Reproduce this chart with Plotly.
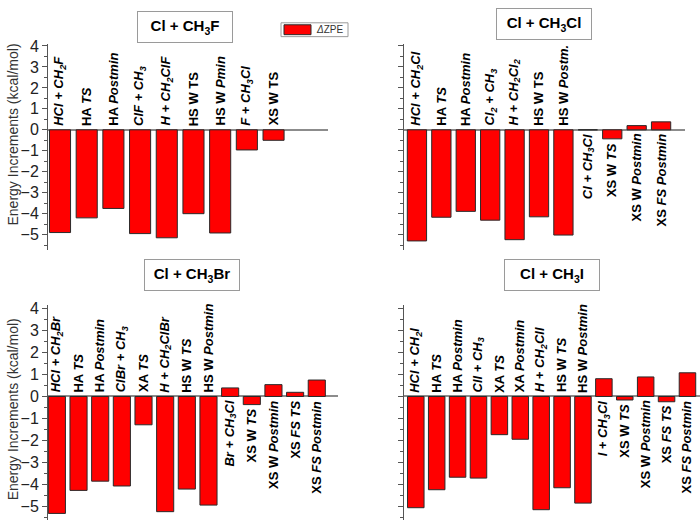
import plotly.graph_objects as go

# ---------------- data ----------------
tl_labels = ["<i>HCl + CH<sub>2</sub>F</i>", "HA <i>TS</i>", "HA <i>Postmin</i>",
             "<i>ClF + CH<sub>3</sub></i>", "<i>H + CH<sub>2</sub>ClF</i>", "HS W TS",
             "HS W <i>Pmin</i>", "<i>F + CH<sub>3</sub>Cl</i>", "XS W TS"]
tl_values = [-4.9, -4.2, -3.75, -4.95, -5.15, -4.0, -4.92, -0.96, -0.5]

tr_labels = ["<i>HCl + CH<sub>2</sub>Cl</i>", "HA <i>TS</i>", "HA <i>Postmin</i>",
             "<i>Cl<sub>2</sub> + CH<sub>3</sub></i>", "<i>H + CH<sub>2</sub>Cl<sub>2</sub></i>",
             "HS W TS", "HS W <i>Postm.</i>", "<i>Cl + CH<sub>3</sub>Cl</i>",
             "XS W <i>TS</i>", "XS W <i>Postmin</i>", "XS <i>FS Postmin</i>"]
tr_values = [-5.3, -4.17, -3.89, -4.31, -5.24, -4.15, -5.02, 0.0, -0.43, 0.2, 0.38]

bl_labels = ["<i>HCl + CH<sub>2</sub>Br</i>", "HA <i>TS</i>", "HA <i>Postmin</i>",
             "<i>ClBr + CH<sub>3</sub></i>", "XA <i>TS</i>", "<i>H + CH<sub>2</sub>ClBr</i>",
             "HS W <i>TS</i>", "HS W <i>Postmin</i>", "<i>Br + CH<sub>3</sub>Cl</i>",
             "XS W <i>TS</i>", "XS W <i>Postmin</i>", "XS <i>FS TS</i>", "XS <i>FS Postmin</i>"]
bl_values = [-5.33, -4.28, -3.86, -4.08, -1.29, -5.25, -4.22, -4.95, 0.39, -0.37, 0.54, 0.19, 0.75]

br_labels = ["<i>HCl + CH<sub>2</sub>I</i>", "HA <i>TS</i>", "HA <i>Postmin</i>",
             "<i>ClI + CH<sub>3</sub></i>", "XA <i>TS</i>", "XA <i>Postmin</i>",
             "<i>H + CH<sub>2</sub>ClI</i>", "HS W <i>TS</i>", "HS W <i>Postmin</i>",
             "<i>I + CH<sub>3</sub>Cl</i>", "XS W <i>TS</i>", "XS W <i>Postmin</i>",
             "XS <i>FS TS</i>", "XS <i>FS Postmin</i>"]
br_values = [-5.07, -4.25, -3.68, -3.72, -1.74, -1.95, -5.16, -4.16, -4.86, 0.81, -0.16, 0.89, -0.24, 1.08]

titles = ["Cl + CH<sub>3</sub>F", "Cl + CH<sub>3</sub>Cl", "Cl + CH<sub>3</sub>Br", "Cl + CH<sub>3</sub>I"]
y_title = "Energy Increments (kcal/mol)"
legend_name = "ΔZPE"
y_ticks = [4, 3, 2, 1, 0, -1, -2, -3, -4, -5]

# ---------------- layout helpers ----------------
W, H = 700, 524
FONT = "Liberation Sans, Arial, sans-serif"

def xd(a, b):
    return [a / W, b / W]

def yd(top, bottom):
    return [1 - bottom / H, 1 - top / H]

panels = [
    dict(lab=tl_labels, val=tl_values, xp=(48, 328), yp=(38.3, 247.2), yr=[-5.75, 4.1],
         xr=[-0.45, 10.04], below=99, ticks=True, tpos=(185, 21)),
    dict(lab=tr_labels, val=tr_values, xp=(404, 685), yp=(38.3, 247.2), yr=[-5.75, 4.1],
         xr=[-0.53, 10.98], below=7, ticks=False, tpos=(544, 18.5)),
    dict(lab=bl_labels, val=bl_values, xp=(48, 338), yp=(302.9, 520.4), yr=[-5.65, 4.15],
         xr=[-0.41, 12.98], below=8, ticks=True, tpos=(192, 272)),
    dict(lab=br_labels, val=br_values, xp=(404.3, 700), yp=(302.9, 520.4), yr=[-5.65, 4.15],
         xr=[-0.55, 13.6], below=9, ticks=False, tpos=(552, 272)),
]

fig = go.Figure()
annotations = []
shapes = []

for k, p in enumerate(panels):
    n = k + 1
    xa = "x" if n == 1 else f"x{n}"
    ya = "y" if n == 1 else f"y{n}"
    xs = list(range(len(p["val"])))
    fig.add_trace(go.Bar(
        x=xs, y=p["val"], xaxis=xa, yaxis=ya, width=0.79,
        marker=dict(color="#FF0000", line=dict(color="#2a2a2a", width=1)),
        name=legend_name, showlegend=False, hoverinfo="skip"))

    fig.layout[f"xaxis{'' if n == 1 else n}"] = dict(
        domain=xd(*p["xp"]), range=p["xr"], visible=False, anchor=ya, fixedrange=True)
    fig.layout[f"yaxis{'' if n == 1 else n}"] = dict(
        domain=yd(*p["yp"]), range=p["yr"], anchor=xa,
        showline=True, linecolor="#555555", linewidth=1,
        ticks="outside", ticklen=5, tickwidth=1, tickcolor="#555555",
        tickvals=y_ticks, showticklabels=p["ticks"],
        tickfont=dict(family=FONT, size=16, color="#222222"),
        minor=dict(ticks="outside", ticklen=3, tickcolor="#555555", dtick=0.5),
        showgrid=False, zeroline=True, zerolinecolor="#8c8c8c", zerolinewidth=1.6,
        fixedrange=True)

    for i, (lab, v) in enumerate(zip(p["lab"], p["val"])):
        if i < p["below"]:
            annotations.append(dict(
                x=i, y=0, xref=xa, yref=ya, text="<b>" + lab + "</b>", showarrow=False,
                textangle=-90, xanchor="center", yanchor="bottom", yshift=2,
                font=dict(family=FONT, size=13, color="#000000")))
        else:
            annotations.append(dict(
                x=i, y=min(v, 0), xref=xa, yref=ya, text="<b>" + lab + "</b>", showarrow=False,
                textangle=-90, xanchor="center", yanchor="top", yshift=-2,
                font=dict(family=FONT, size=13, color="#000000")))

    tx, ty = p["tpos"]
    annotations.append(dict(
        x=tx / W, y=1 - ty / H, xref="paper", yref="paper", text="<b>" + titles[k] + "</b>",
        showarrow=False, xanchor="center", yanchor="middle", width=92, height=28,
        bordercolor="#9a9a9a", borderwidth=1, bgcolor="white", borderpad=1,
        font=dict(family=FONT, size=15, color="#000000")))

# y-axis titles
for yc in (130, 408):
    annotations.append(dict(
        x=13 / W, y=1 - yc / H, xref="paper", yref="paper", text=y_title, showarrow=False,
        textangle=-90, xanchor="center", yanchor="middle",
        font=dict(family=FONT, size=14, color="#333333")))

# legend box
shapes.append(dict(type="rect", xref="paper", yref="paper",
                   x0=281 / W, x1=348 / W, y0=1 - 31 / H, y1=1 - 17 / H,
                   line=dict(color="#9a9a9a", width=1), fillcolor="white"))
shapes.append(dict(type="rect", xref="paper", yref="paper",
                   x0=284 / W, x1=311 / W, y0=1 - 29 / H, y1=1 - 19 / H,
                   line=dict(color="#2a2a2a", width=1), fillcolor="#FF0000"))
annotations.append(dict(
    x=314 / W, y=1 - 24 / H, xref="paper", yref="paper", text="<i>Δ</i>ZPE", showarrow=False,
    xanchor="left", yanchor="middle", font=dict(family=FONT, size=10, color="#333333")))

fig.update_layout(
    width=W, height=H, margin=dict(l=0, r=0, t=0, b=0),
    paper_bgcolor="white", plot_bgcolor="rgba(0,0,0,0)",
    showlegend=False, bargap=0.2,
    annotations=annotations, shapes=shapes,
    font=dict(family=FONT))

fig.write_html("out.html", config={"displayModeBar": False},
               post_script="document.body.style.margin='0';document.body.style.overflow='hidden';")
